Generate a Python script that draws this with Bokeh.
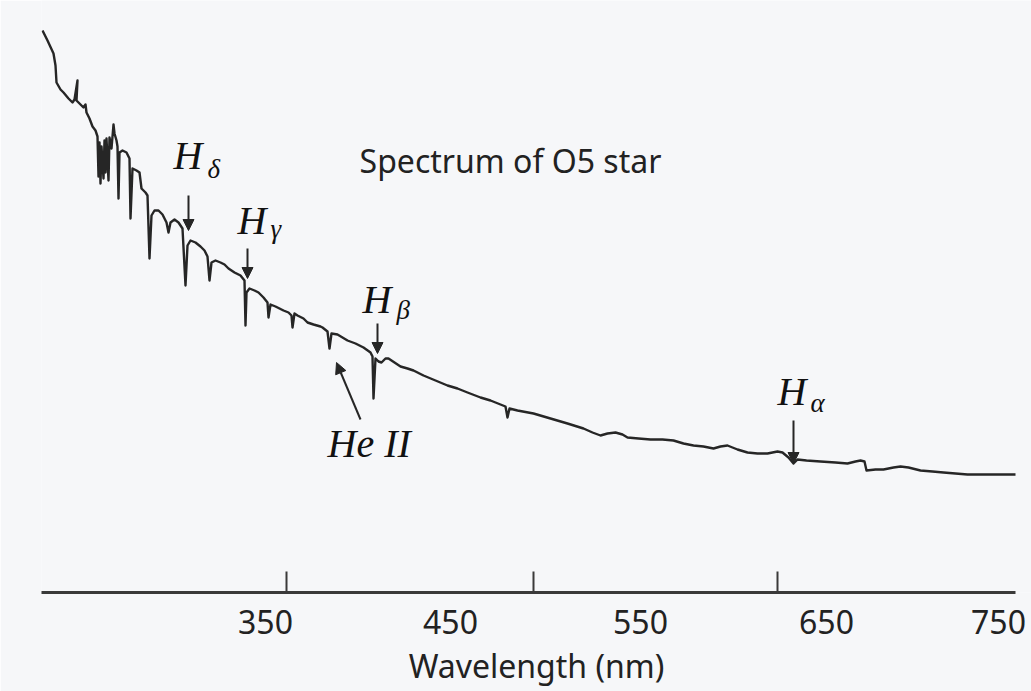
from bokeh.plotting import figure
from bokeh.models import (Range1d, LinearAxis, FixedTicker, ColumnDataSource,
                          Arrow, NormalHead)
from bokeh.core.properties import value
from bokeh.embed import file_html
from bokeh.resources import INLINE

# ---- data (horizontal chart units, relative flux) ----
spec_x = [42, 47, 53, 55, 56, 60, 63, 68, 72, 74, 77, 76, 80, 83, 85, 86, 89, 92, 95, 97,
          98, 99, 100, 101, 103, 104, 105, 106, 108, 109, 111, 113, 114, 116, 117, 118, 119,
          122, 126, 129, 130, 132, 136, 139, 141, 145, 147, 149, 151, 154, 158, 162, 166,
          168, 170, 174, 178, 182, 185, 187, 190, 195, 200, 204, 207, 209, 211, 215, 220,
          224, 228, 234, 240, 244, 245, 246, 249, 254, 258, 263, 267, 268, 270, 275, 283,
          288, 291, 292, 294, 297, 303, 307, 313, 320, 322, 327, 329, 331, 337, 347, 355,
          363, 370, 372, 373, 375, 378, 381, 385, 388, 394, 400, 407, 413, 423, 435, 447,
          457, 467, 480, 490, 500, 505, 507, 509, 517, 533, 550, 567, 583, 592, 600, 607,
          615, 622, 627, 638, 650, 662, 673, 683, 693, 703, 713, 720, 727, 737, 747, 757,
          767, 777, 782, 788, 793, 797, 806, 820, 835, 847, 855, 860, 864, 866, 875, 883,
          893, 900, 908, 920, 932, 943, 955, 967, 990, 1015]
spec_flux = [562, 552, 539, 527, 510, 503, 500, 494, 490, 493, 512, 492, 488, 485, 488, 480,
             474, 466, 462, 456, 416, 450, 409, 446, 414, 452, 420, 454, 412, 455, 444, 468,
             459, 452, 446, 394, 440, 442, 440, 434, 374, 424, 422, 420, 404, 400, 397, 334,
             377, 382, 382, 378, 370, 360, 370, 373, 370, 364, 307, 347, 352, 350, 346, 342,
             336, 312, 330, 332, 330, 328, 324, 320, 317, 312, 267, 300, 304, 302, 300, 295,
             290, 275, 288, 286, 282, 280, 277, 265, 279, 277, 274, 270, 268, 266, 265, 261,
             244, 259, 258, 252, 249, 245, 240, 236, 194, 234, 231, 230, 234, 234, 230, 226,
             224, 222, 217, 212, 207, 204, 200, 195, 192, 188, 186, 175, 184, 182, 179, 174,
             169, 164, 160, 157, 159, 160, 158, 155, 154, 153, 153, 152, 149, 147, 146, 144,
             146, 147, 143, 140, 139, 139, 141, 140, 135, 129, 133, 132, 131, 130, 129, 131,
             132, 131, 122, 123, 123, 125, 126, 125, 122, 121, 120, 119, 118, 118, 118]

# tick labels (schematic axis) and tick marks
label_pos = [265, 450, 640, 826, 998]
label_txt = ["350", "450", "550", "650", "750"]
tick_marks = [286, 533, 777]
axis_title = "Wavelength (nm)"
chart_title = "Spectrum of O5 star"

# line labels
h_x = [173, 237, 362, 777]
h_y = [437, 372, 293, 201]
sub_x = [207, 270, 396, 810]
sub_y = [424, 364, 283, 190]
sub_txt = ["δ", "γ", "β", "α"]
heii_x, heii_y = [327], [149]

# arrows
arr_x0 = [188, 247, 377, 793, 360]
arr_y0 = [397, 344, 269, 172, 173]
arr_x1 = [188, 247, 377, 793, 336]
arr_y1 = [362, 314, 239, 129, 230]

BG = "#f6f7f9"
INK = "#262626"

p = figure(width=1031, height=691, output_backend="svg", toolbar_location=None,
           x_range=Range1d(41, 1031), y_range=Range1d(0, 592),
           x_axis_type=None, y_axis_type=None,
           min_border_left=41, min_border_right=0, min_border_top=0,
           min_border_bottom=99)
p.background_fill_color = BG
p.border_fill_color = BG
p.outline_line_color = None
p.xgrid.visible = False
p.ygrid.visible = False

ax = LinearAxis(ticker=FixedTicker(ticks=label_pos, minor_ticks=tick_marks))
ax.major_label_overrides = {k: t for k, t in zip(label_pos, label_txt)}
ax.bounds = (41, 1015)
ax.axis_line_width = 3
ax.axis_line_color = "#3a3a3a"
ax.major_tick_in = 0
ax.major_tick_out = 0
ax.minor_tick_in = 21
ax.minor_tick_out = 0
ax.minor_tick_line_width = 2
ax.minor_tick_line_color = "#3a3a3a"
ax.major_label_text_font = "Noto Sans"
ax.major_label_text_font_size = "32px"
ax.major_label_text_color = "#222222"
ax.major_label_standoff = 17
ax.axis_label = axis_title
ax.axis_label_text_font = "Noto Sans"
ax.axis_label_text_font_size = "32px"
ax.axis_label_text_font_style = "normal"
ax.axis_label_text_color = "#222222"
ax.axis_label_standoff = 7
p.add_layout(ax, "below")

p.line(spec_x, spec_flux, line_color=INK, line_width=2.4, line_join="round")

p.text(x=[510], y=[432], text=[chart_title], text_align="center",
       text_baseline="alphabetic", text_font=value("Noto Sans"),
       text_font_size="32px", text_color="#222222")

p.text(x=h_x, y=h_y, text=["H"] * len(h_x), text_font=value("Liberation Serif"),
       text_font_style="italic", text_font_size="40px", text_color="#111111",
       text_baseline="alphabetic")
p.text(x=sub_x, y=sub_y, text=sub_txt, text_font=value("Liberation Serif"),
       text_font_style="italic", text_font_size="27px", text_color="#111111",
       text_baseline="alphabetic")
p.text(x=heii_x, y=heii_y, text=["He II"], text_font=value("Liberation Serif"),
       text_font_style="italic", text_font_size="40px", text_color="#111111",
       text_baseline="alphabetic")

src = ColumnDataSource(dict(x0=arr_x0, y0=arr_y0, x1=arr_x1, y1=arr_y1))
p.add_layout(Arrow(x_start="x0", y_start="y0", x_end="x1", y_end="y1", source=src,
                   line_width=2, line_color=INK,
                   end=NormalHead(size=11, fill_color=INK, line_color=INK, line_width=1)))

open("out.html", "w").write(file_html(p, INLINE))
